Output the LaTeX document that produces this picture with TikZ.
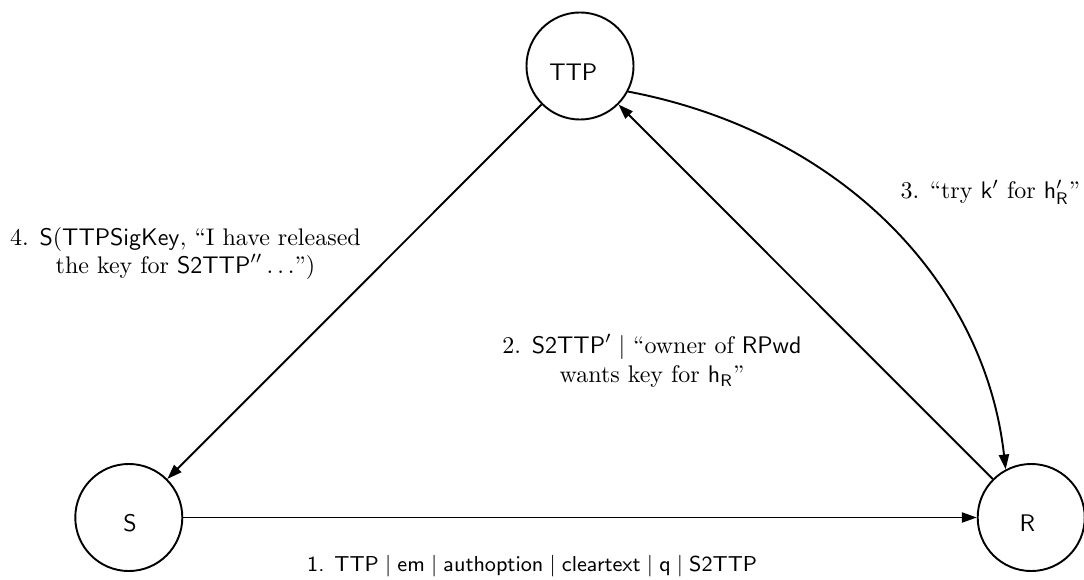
\documentclass[tikz,border=0pt]{standalone}
\usetikzlibrary{arrows.meta}
\begin{document}
\begin{tikzpicture}[x=0.416667pt, y=-0.416667pt,
  state/.style={draw, circle, line width=0.8pt, minimum size=44.6pt, inner sep=0pt},
  lbl/.style={font=\sffamily, inner sep=0pt},
  msg/.style={inner sep=0pt, align=center},
  arr/.style={line width=0.8pt, -{Triangle[length=6.2pt,width=4.2pt]}}]
\useasboundingbox (0,0) rectangle (1084,579);
% states
\node[state] (TTP) at (580,66) {};
\node[state] (S) at (128.8,517.5) {};
\node[state] (R) at (1031.2,517.5) {};
\node[lbl] (TTPl) at (573.3,71.7) {TTP};
\node[lbl] (Sl) at (130,523.3) {S};
\node[lbl] (Rl) at (1027.3,523.3) {R};
% connectors
\draw[arr] (S) -- (R);
\draw[arr] (R) -- (TTP);
\draw[arr] (TTP) -- (S);
\draw[arr] (TTP.-28) .. controls (840,132) and (984.5,281) .. (R.118);
% messages
\node[msg, anchor=base, font=\small\sffamily] (m1) at (532.2,571.7)
  {1. $\mathsf{TTP} \mid \mathsf{em} \mid \mathsf{authoption} \mid \mathsf{cleartext} \mid \mathsf{q} \mid \mathsf{S2TTP}$};
\node[msg] (m2) at (652,360.7)
  {2. $\mathsf{S2TTP}' \mid$ ``owner of $\mathsf{RPwd}$\\ wants key for $\mathsf{h_R}$''};
\node[msg, anchor=base west] (m3) at (900,198)
  {3. ``try $\mathsf{k}'$ for $\mathsf{h'_R}$''};
\node[msg] (m4) at (185.5,253.5)
  {4. $\mathsf{S}(\mathsf{TTPSigKey},$ ``I have released\\ the key for $\mathsf{S2TTP}''\ldots$'')};
\end{tikzpicture}
\end{document}
